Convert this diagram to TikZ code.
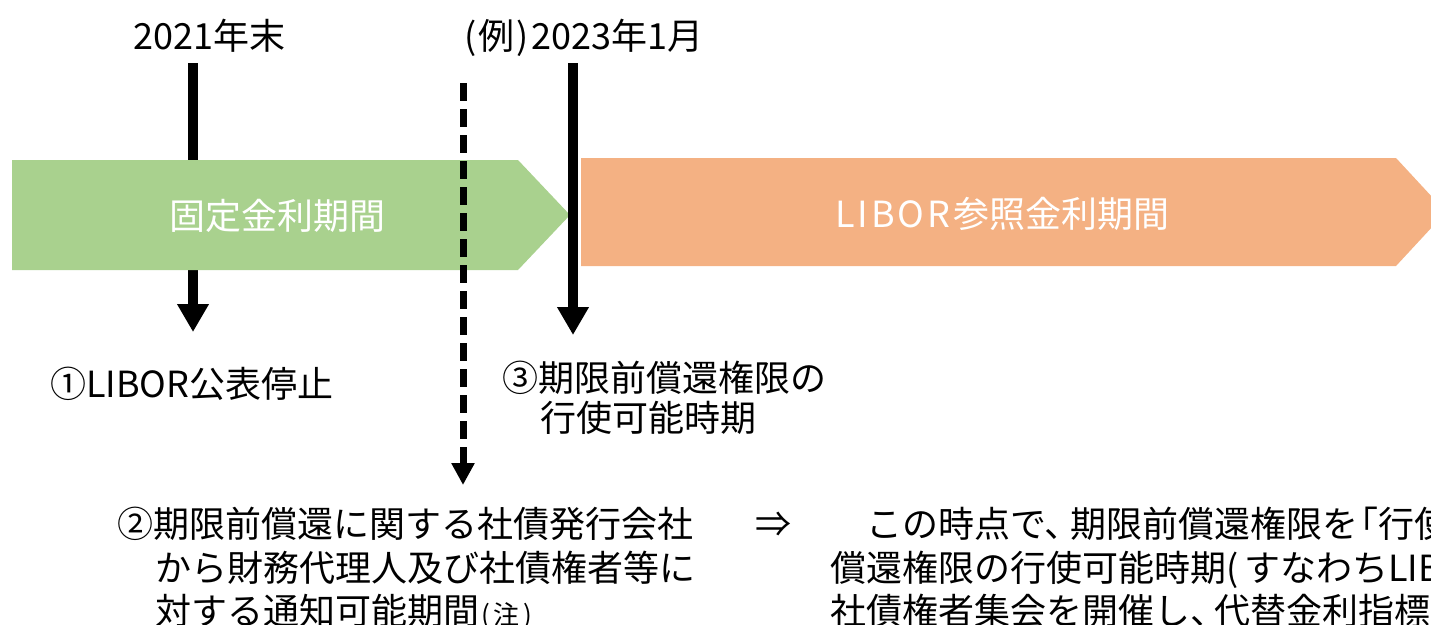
\documentclass[tikz,border=0pt]{standalone}
\usepackage{fontspec}
\setmainfont{Noto Sans CJK JP}
\usetikzlibrary{arrows.meta}
\definecolor{barG}{HTML}{A9D18E}
\definecolor{barO}{HTML}{F4B183}
\begin{document}
\begin{tikzpicture}[x=1pt,y=-1pt,
  txt/.style={inner sep=0pt, anchor=base west, font=\fontsize{36}{44}\selectfont},
  wtxt/.style={txt, text=white},
  solidarrow/.style={line width=10pt, -{Triangle[width=30pt,length=28pt]}},
  dasharrow/.style={line width=7pt, dash pattern=on 18pt off 8pt, -{Triangle[width=22pt,length=22pt]}}]
\useasboundingbox (0,0) rectangle (1431,624);
\clip (0,0) rectangle (1431,624);
% coordinates for arrow ends
\coordinate (a1s) at (193,63);
\coordinate (a1e) at (193,332);
\coordinate (a2s) at (463,83);
\coordinate (a2e) at (463,485);
\coordinate (a3s) at (573,63);
\coordinate (a3e) at (573,335);
% arrow 1 (behind green bar)
\draw[solidarrow] (a1s) -- (a1e);
% bars
\fill[barG] (12,160) -- (518,160) -- (570,215) -- (518,270) -- (12,270) -- cycle;
\fill[barO] (581,158) -- (1396,158) -- (1446,212) -- (1396,266) -- (581,266) -- cycle;
\node[wtxt, anchor=base] (g) at (277,229) {固定金利期間};
\node[wtxt] (o) at (835,227) {L\kern3pt I\kern3pt B\kern3pt O\kern3pt R\kern3pt 参照金利期間};
% arrows on top
\draw[solidarrow] (a3s) -- (a3e);
\draw[dasharrow] (a2s) -- (a2e);
% labels
\node[txt] (t1) at (133,49) {2021年末};
\node[txt] (t2) at (464,49) {(\kern2pt 例\kern2pt )\kern3pt 2023年1月};
\node[txt] (l1) at (50,397) {①LIBOR公表停止};
\node[txt] (l3a) at (502,391) {③期限前償還権限の};
\node[txt] (l3b) at (540,431) {行使可能時期};
\node[txt] (l2a) at (117,537) {②期限前償還に関する社債発行会社};
\node[txt] (l2b) at (155,581) {から財務代理人及び社債権者等に};
\node[txt] (l2c) at (155,624) {対する通知可能期間{\fontsize{26}{28}\selectfont\kern2pt(\kern4pt 注\kern4pt )}};
\node[txt] (imp) at (755,537) {⇒};
\node[txt] (r1) at (830,537) {\hspace*{36pt}この時点で、\kern-10pt 期限前償還権限を\kern-16pt 「行使};
\node[txt] (r2) at (830,581) {償還権限の行使可能時期(\kern6pt すなわちLIB};
\node[txt] (r3) at (830,624) {社債権者集会を開催し、\kern-12pt 代替金利指標};
\end{tikzpicture}
\end{document}
